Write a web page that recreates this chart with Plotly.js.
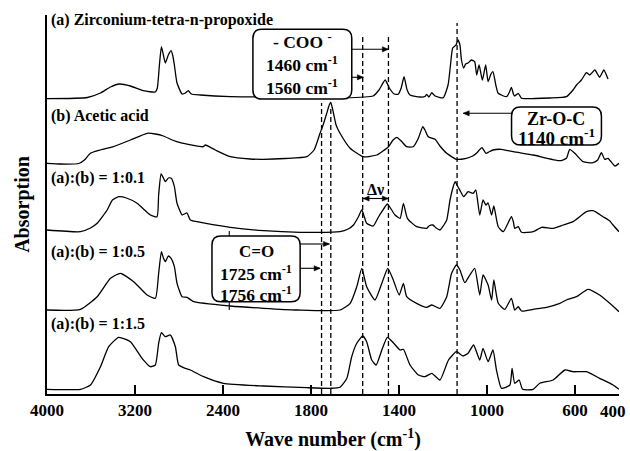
<!DOCTYPE html>
<html>
<head>
<meta charset="utf-8">
<script src="https://cdn.plot.ly/plotly-3.0.1.min.js"></script>
<style>html,body{margin:0;padding:0;background:#fff}#chart{width:630px;height:451px}</style>
</head>
<body>
<div id="chart"></div>
<script>
// ---- Data (wavenumber in cm-1, stacked absorption in arbitrary units) ----
const seriesNames = ["(a) Zirconium-tetra-n-propoxide", "(b) Acetic acid", "(a):(b) = 1:0.1", "(a):(b) = 1:0.5", "(a):(b) = 1:1.5"];
const tickWaveNumbers = [4000, 3200, 2400, 1800, 1400, 1000, 600, 400];
const tickLabels = ["4000", "3200", "2400", "1800", "1400", "1000", "600", "400"];
const markerWaveNumbers = [1752, 1710, 1565, 1448, 1136];

const wnA = [4000,3632,3514,3423,3342,3242,3124,3015,2997,2978,2960,2942,2924,2897,2872,2856,2842,2818,2772,2742,2715,2688,2606,2334,2034,1849,1668,1518,1491,1463,1444,1422,1404,1390,1377,1363,1350,1304,1282,1274,1264,1251,1236,1199,1177,1166,1156,1141,1132,1123,1116,1106,1097,1086,1071,1056,1047,1036,1021,1006,995,982,973,960,949,911,898,889,880,874,858,843,783,715,639,609,593,571,548,533,510,488,469,450];
const abA = [295.3,296.5,301,307,310,308,303.3,302,306,329,347.3,339,331,339,343.3,338,329,311,300,301,303.3,300,299,297.3,297,295.7,296,298,304,314,306,300,299.7,306,317.3,304,299,297,297.5,299.7,297,301.3,298,296.3,309,329,346,349,354,349,334,326,330,331,334,332.3,319,329,314,329,312.3,320,322.3,309,300.7,297.3,302,306.7,300,298,300.7,295.7,295.5,296,297.3,304,309,314,321.3,319,324,316.7,324,315];

const wnB = [4000,3877,3711,3660,3605,3514,3396,3242,3090,3015,2942,2861,2788,2579,2561,2470,2334,2154,2034,1917,1819,1786,1759,1745,1728,1717,1710,1698,1686,1668,1622,1562,1501,1473,1448,1427,1410,1390,1365,1335,1312,1292,1282,1267,1236,1214,1183,1139,1094,1065,1048,1023,1005,992,973,934,881,790,669,639,624,601,563,518,497,480,465,450,419,400];
const abB = [230.7,230,230.5,234,240.7,244,247.3,254,260.7,260,258,254,251.3,247.3,249,244,237.3,235,234.7,235.5,237.3,244,260.7,269,281,289,291.5,281,269,260.7,245.7,237.3,239,243,247.3,254,256.7,253,247.3,247.3,255.7,267.3,264,257.3,254.7,248,240.7,234.7,235.7,238,240.7,246.3,240.7,242,244,244.7,242.3,239,233.3,235.7,244.7,240.7,232.3,231.3,234,241.3,234.7,235.7,228,230.7];

const wnC = [4000,3696,3605,3544,3453,3405,3348,3278,3181,3060,3000,2985,2963,2942,2924,2897,2870,2842,2818,2772,2751,2727,2697,2636,2334,2031,1849,1668,1631,1607,1585,1569,1547,1517,1496,1478,1453,1436,1418,1395,1380,1362,1320,1274,1264,1246,1231,1214,1196,1183,1168,1154,1145,1132,1119,1106,1086,1063,1051,1033,1018,1005,995,979,969,949,926,889,880,874,858,843,790,752,699,654,609,548,518,473,442,427,400];
const abC = [164,162.3,166,170.7,184,194,197.3,196,190.7,179,177.3,199,220,216,212.3,216,215.7,207.3,190.7,179,180,181,174,172.3,166.7,163.3,161.7,162.3,165,169,177,184,170.7,168,176,182.3,190,185,179,175.7,190.7,175.7,167.3,165.7,168,169,166,164,169,174,194,207,212.3,207.3,202,197.3,202.3,200.7,204,179,194,189,191,179,188,167.3,162.3,177.3,172,165.7,167.3,161.7,162.3,166.7,165.7,169,172.3,182.3,183.3,177.3,173,169,162.3];

const wnD = [4000,3696,3544,3423,3333,3212,3090,3015,2985,2960,2942,2924,2897,2872,2842,2818,2772,2727,2667,2334,2031,1864,1668,1622,1592,1569,1547,1509,1478,1451,1426,1399,1380,1365,1320,1274,1251,1214,1183,1161,1139,1123,1101,1078,1056,1033,1018,995,979,969,949,919,889,874,858,843,790,729,669,639,593,541,488,442,400];
const abD = [84,84.7,97.3,115.7,120.7,112.3,99,95.7,120.7,142.3,136,132.3,138,135.7,127.3,110.7,97.3,96.7,92.3,88,85.7,84,84,90.7,107.3,125.7,107.3,94,110.7,125.7,114,99,110.7,97.3,90.7,86.7,89,85.7,97.3,120.7,129,124,111.3,119,125.7,99,119,109,94,114,90.7,84.7,95.7,84,87.3,83,84.7,86.7,90.7,94,97.3,104.7,99,90.7,82.3];

const wnE = [4000,3696,3605,3514,3439,3348,3242,3136,3060,3015,2985,2960,2924,2879,2833,2803,2742,2697,2576,2397,2031,1819,1713,1668,1637,1615,1592,1565,1547,1524,1504,1478,1453,1426,1395,1380,1350,1312,1282,1251,1214,1175,1139,1109,1086,1061,1033,1018,995,973,957,934,896,886,874,854,838,790,760,699,646,609,548,488,427,400];
const abE = [4.7,4.7,9,27.3,47.3,56.7,52.3,35.7,27.3,29,50.7,61.3,57.3,59,47.3,29,25.7,24,17.3,10.7,8,6.3,5.7,6.7,15.7,37.3,50.7,58,52.3,34,29,44,56.7,51.3,44,44.7,29,19,17.3,20.7,14,34,42.3,38,40.7,49,34,45.7,32.3,44,24,5.7,9,25.7,10.7,14,4.7,4.7,10.7,14,24,22.3,22.3,15.7,9,4.7];

// ---- Axis break: scale below 2000 cm-1 is doubled (standard FTIR) ----
const U = w => (w <= 2000 ? w : 2000 + (w - 2000) / 2);

const allW = [wnA, wnB, wnC, wnD, wnE];
const allY = [abA, abB, abC, abD, abE];
const traces = allW.map((w, i) => ({
  type: 'scatter', mode: 'lines', name: seriesNames[i],
  x: w.map(U), y: allY[i],
  line: {color: '#000', width: 1.3, shape: 'spline', smoothing: 0.5},
  hoverinfo: 'skip', showlegend: false
}));

// ---- layout helpers (pixel -> paper) ----
const L = 46.5, R = 619.3, T = 15, B = 394;
const fx = px => (px - L) / (R - L);
const fy = py => (B - py) / (B - T);
const serif = 'Liberation Serif, Times New Roman, serif';
const P = (x, y) => fx(x).toFixed(5) + ',' + fy(y).toFixed(5);

function roundRect(x0, y0, x1, y1, r) {
  return 'M' + P(x0 + r, y0) + ' L' + P(x1 - r, y0) + ' Q' + P(x1, y0) + ' ' + P(x1, y0 + r) +
    ' L' + P(x1, y1 - r) + ' Q' + P(x1, y1) + ' ' + P(x1 - r, y1) +
    ' L' + P(x0 + r, y1) + ' Q' + P(x0, y1) + ' ' + P(x0, y1 - r) +
    ' L' + P(x0, y0 + r) + ' Q' + P(x0, y0) + ' ' + P(x0 + r, y0) + ' Z';
}

const shapes = [];
const dashTops = [291, 288, 357, 357, 371];
markerWaveNumbers.forEach((w, i) => shapes.push({
  type: 'line', xref: 'x', yref: 'y', x0: U(w), x1: U(w), y0: 0, y1: dashTops[i],
  line: {color: '#000', width: 1.3, dash: '5px,3px'}
}));
[[252.7, 29.3, 351.7, 99], [511.7, 107, 601.7, 145], [211.7, 236, 300, 301.7]].forEach(b => shapes.push({
  type: 'path', xref: 'paper', yref: 'paper', path: roundRect(b[0], b[1], b[2], b[3], 9),
  fillcolor: '#fff', line: {color: '#000', width: 1.5}, layer: 'above'
}));
function seg(x0, y0, x1, y1) {
  shapes.push({type: 'line', xref: 'paper', yref: 'paper', x0: fx(x0), x1: fx(x1), y0: fy(y0), y1: fy(y1),
    line: {color: '#000', width: 1.1}, layer: 'above'});
}
function head(hx, hy, dir) { // dir: +1 points right, -1 points left
  const len = 6, hw = 2.6;
  shapes.push({type: 'path', xref: 'paper', yref: 'paper',
    path: 'M' + P(hx, hy) + ' L' + P(hx - dir * len, hy - hw) + ' L' + P(hx - dir * len, hy + hw) + ' Z',
    fillcolor: '#000', line: {color: '#000', width: 0.5}, layer: 'above'});
}
function arrow(hx, hy, tx, both) {
  const dir = hx > tx ? 1 : -1;
  seg(tx, hy, hx, hy);
  head(hx, hy, dir);
  if (both) head(tx, hy, -dir);
}
// short connectors from C=O box to neighbouring traces
seg(229, 236, 229, 231);
seg(229, 301.7, 229, 310);

const ann = [];
function txt(text, px, py, anchor, size) {
  ann.push({text, xref: 'paper', yref: 'paper', x: fx(px), y: fy(py), xanchor: anchor || 'center', yanchor: 'middle',
    showarrow: false, font: {family: serif, size: size || 16, color: '#000', weight: 'bold'}});
}
// series labels
txt(seriesNames[0], 48.5, 20, 'left');
txt(seriesNames[1], 48.5, 116, 'left');
txt(seriesNames[2], 48.5, 177.5, 'left');
txt(seriesNames[3], 48.5, 252, 'left');
txt(seriesNames[4], 48.5, 324, 'left');
// COO box
txt('- COO <sup>-</sup>', 302, 41, 'center', 17.5);
txt('1460 cm<sup>-1</sup>', 302, 64, 'center', 17.5);
txt('1560 cm<sup>-1</sup>', 302, 87.5, 'center', 17.5);
arrow(388.3, 49.3, 351.7);
arrow(363.3, 77.3, 351.7);
// Zr-O-C box
txt('Zr-O-C', 556.7, 118.5, 'center', 18);
txt('1140 cm<sup>-1</sup>', 556.7, 137.3, 'center', 19);
arrow(463.3, 113.3, 511.7);
// C=O box
txt('C=O', 256, 251.7, 'center', 17);
txt('1725 cm<sup>-1</sup>', 256, 272.7, 'center', 17.5);
txt('1756 cm<sup>-1</sup>', 256, 294.3, 'center', 17.5);
arrow(329.3, 244, 300);
arrow(320, 268.3, 300);
// delta nu
txt('Δν', 375.7, 189);
arrow(388.3, 198.5, 363.1, true);
// last tick label, kept inside the picture's right edge
txt(tickLabels[tickLabels.length - 1], 628.5, 411, 'right', 17);

const layout = {
  width: 630, height: 451,
  margin: {l: L, r: 630 - R, t: T, b: 451 - B, pad: 0},
  paper_bgcolor: '#fff', plot_bgcolor: '#fff',
  showlegend: false,
  xaxis: {
    range: [U(4000), U(400)], autorange: false,
    tickmode: 'array', tickvals: tickWaveNumbers.map(U),
    ticktext: tickLabels.map((t, i) => (i === tickLabels.length - 1 ? '' : t)),
    ticks: 'inside', ticklen: 9, tickwidth: 2, tickcolor: '#000',
    showline: true, linecolor: '#000', linewidth: 2, showgrid: false, zeroline: false,
    tickfont: {family: serif, size: 17, color: '#000', weight: 'bold'},
    title: {text: 'Wave number (cm<sup>-1</sup>)', font: {family: serif, size: 20, color: '#000', weight: 'bold'}, standoff: 19},
    automargin: false
  },
  yaxis: {
    range: [0, 379], autorange: false,
    showticklabels: false, ticks: '', showline: true, linecolor: '#000', linewidth: 2,
    showgrid: false, zeroline: false,
    title: {text: 'Absorption', font: {family: serif, size: 20, color: '#000', weight: 'bold'}, standoff: 10},
    automargin: false
  },
  shapes, annotations: ann
};
Plotly.newPlot('chart', traces, layout, {staticPlot: true, displayModeBar: false});
</script>
</body>
</html>
